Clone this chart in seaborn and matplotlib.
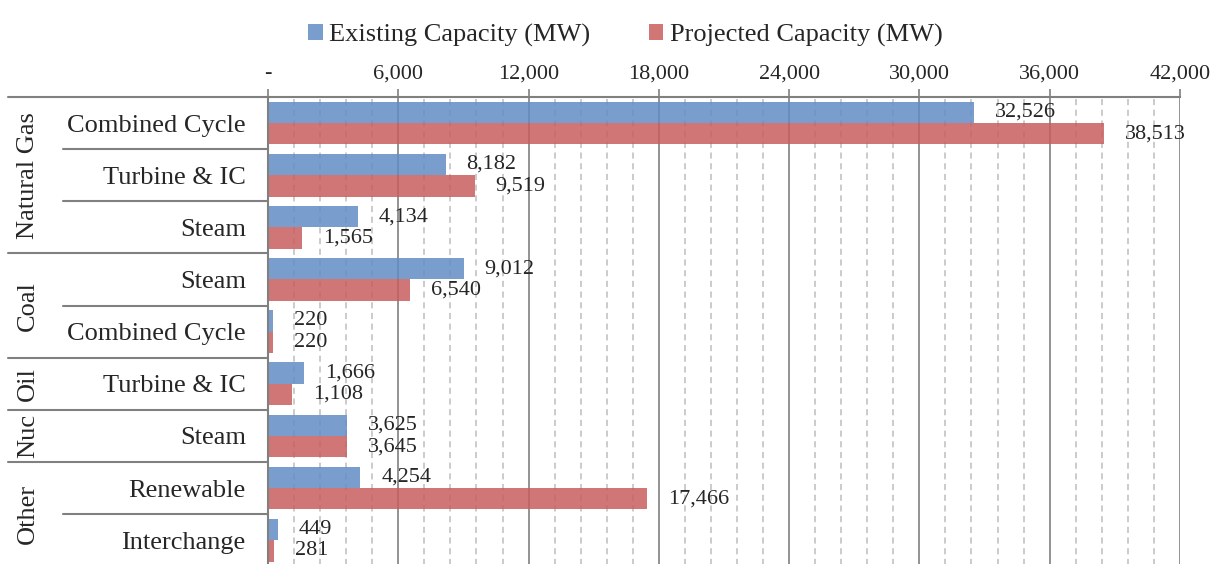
import pandas as pd
import seaborn as sns
import matplotlib.pyplot as plt
from matplotlib.ticker import MultipleLocator, FuncFormatter
from matplotlib.transforms import blended_transform_factory

# Chart data
groups = ['Natural Gas', 'Natural Gas', 'Natural Gas', 'Coal', 'Coal',
          'Oil', 'Nuc', 'Other', 'Other']
techs = ['Combined Cycle', 'Turbine & IC', 'Steam', 'Steam', 'Combined Cycle',
         'Turbine & IC', 'Steam', 'Renewable', 'Interchange']
existing = [32526, 8182, 4134, 9012, 220, 1666, 3625, 4254, 449]
projected = [38513, 9519, 1565, 6540, 220, 1108, 3645, 17466, 281]
series = ['Existing Capacity (MW)', 'Projected Capacity (MW)']

keys = [f'{g}|{t}' for g, t in zip(groups, techs)]
df = pd.DataFrame({
    'key': keys * 2,
    'value': existing + projected,
    'series': [series[0]] * len(keys) + [series[1]] * len(keys),
})

sns.set_style('white')
plt.rcParams['font.family'] = ['Liberation Serif', 'DejaVu Serif']

fig = plt.figure(figsize=(12.19, 5.64), dpi=100)
ax = fig.add_axes([0.2199, -0.004, 0.748, 0.832])

sns.barplot(data=df, y='key', x='value', hue='series', orient='h',
            palette=['#628DC5', '#C95E5E'], saturation=1, width=0.82,
            alpha=0.85, linewidth=0, ax=ax)

# value labels
for cont in ax.containers:
    ax.bar_label(cont, labels=[f'{v:,.0f}' for v in cont.datavalues],
                 padding=15, fontsize=16)

# x axis on top
ax.set_xlim(0, 42000)
ax.set_ylim(8.5, -0.5)
ax.xaxis.tick_top()
ax.xaxis.set_major_locator(MultipleLocator(6000))
ax.xaxis.set_minor_locator(MultipleLocator(1200))
ax.xaxis.set_major_formatter(FuncFormatter(lambda v, p: '-' if v == 0 else f'{v:,.0f}'))
ax.tick_params(axis='x', which='major', direction='out', length=6, width=1.2,
               color='#808080', labelsize=16, pad=4)
ax.tick_params(axis='x', which='minor', length=0)
ax.set_axisbelow(True)
ax.grid(axis='x', which='major', color='#808080', lw=1.2)
ax.grid(axis='x', which='minor', color='#BDBDBD', lw=1.1, ls=(0, (4, 3)))
ax.set_xlabel('')
ax.set_ylabel('')

# y tick labels
ax.set_yticks(range(len(techs)))
ax.set_yticklabels(techs, fontsize=19)
ax.tick_params(axis='y', length=0, pad=16)

for s in ['bottom', 'right']:
    ax.spines[s].set_visible(False)
for s in ['top', 'left']:
    ax.spines[s].set_color('#808080')
    ax.spines[s].set_linewidth(1.5)

# multi-level category separators and group labels
tr = blended_transform_factory(ax.transAxes, ax.transData)
group_names = []
for g in groups:
    if g not in group_names:
        group_names.append(g)
for g in group_names:
    idx = [i for i, gg in enumerate(groups) if gg == g]
    ax.plot([-0.285, 0], [idx[0] - 0.5] * 2, color='#808080', lw=1.5,
            transform=tr, clip_on=False)
    for i in idx[1:]:
        ax.plot([-0.225, 0], [i - 0.5] * 2, color='#808080', lw=1.5,
                transform=tr, clip_on=False)
    ax.text(-0.263, (idx[0] + idx[-1]) / 2, g, rotation=90, fontsize=19,
            ha='center', va='center', transform=tr)

# legend
handles, labels = ax.get_legend_handles_labels()
ax.get_legend().remove()
fig.legend(handles, labels, loc='upper center', bbox_to_anchor=(0.513, 1.0),
           ncol=2, frameon=False, fontsize=19, handlelength=0.55,
           handleheight=0.55, handletextpad=0.25, columnspacing=2.2)

plt.savefig('out.png', dpi=100)
plt.close()
